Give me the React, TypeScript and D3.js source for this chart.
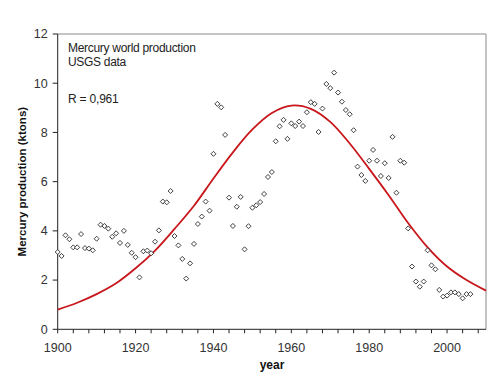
import React from "react";
import * as d3 from "d3";

const years: number[] = d3.range(1900, 2007);
const production: number[] = [
  3.14, 2.98, 3.82, 3.66, 3.33, 3.33, 3.87, 3.30, 3.28, 3.21,
  3.68, 4.25, 4.20, 4.09, 3.76, 3.90, 3.51, 4.00, 3.43, 3.11,
  2.93, 2.11, 3.17, 3.20, 3.09, 3.56, 4.02, 5.19, 5.16, 5.62,
  3.79, 3.41, 2.86, 2.06, 2.68, 3.47, 4.28, 4.58, 5.19, 4.82,
  7.13, 9.16, 9.02, 7.90, 5.35, 4.20, 4.98, 5.38, 3.25, 4.19,
  4.94, 5.04, 5.17, 5.50, 6.19, 6.39, 7.64, 8.25, 8.51, 7.74,
  8.37, 8.26, 8.44, 8.26, 8.82, 9.23, 9.16, 8.02, 8.97, 9.97,
  9.80, 10.43, 9.62, 9.25, 8.91, 8.74, 8.09, 6.61, 6.27, 6.03,
  6.85, 7.29, 6.85, 6.23, 6.75, 6.15, 7.82, 5.55, 6.85, 6.77,
  4.10, 2.55, 1.94, 1.73, 1.94, 3.21, 2.60, 2.44, 1.60, 1.33,
  1.37, 1.50, 1.50, 1.43, 1.26, 1.43, 1.43,
];

const fitYears: number[] = [
  1900, 1905, 1910, 1915, 1920, 1925, 1930, 1935, 1940, 1945, 1950, 1955,
  1960, 1965, 1970, 1975, 1980, 1985, 1990, 1995, 2000, 2005, 2010,
];
const fitValues: number[] = [
  0.80, 1.08, 1.43, 1.87, 2.48, 3.20, 4.08, 5.02, 6.13, 7.19, 8.12, 8.79,
  9.09, 8.96, 8.43, 7.55, 6.52, 5.45, 4.32, 3.33, 2.55, 2.0, 1.57,
];

const xMajorTicks: number[] = [1900, 1920, 1940, 1960, 1980, 2000];
const xMinorTicks: number[] = d3.range(1900, 2010, 4);
const yTicks: number[] = [0, 2, 4, 6, 8, 10, 12];

const titleLines: string[] = ["Mercury world production", "USGS data"];
const rText = "R = 0,961";

export default function App() {
  const W = 500;
  const H = 381;
  const left = 57.7;
  const right = 486;
  const top = 34;
  const bottom = 329.3;
  const x = d3.scaleLinear().domain([1900, 2010]).range([left, right]);
  const y = d3.scaleLinear().domain([0, 12]).range([bottom, top]);

  const line = d3
    .line<number>()
    .x((_, i) => x(fitYears[i]))
    .y((d) => y(d))
    .curve(d3.curveCatmullRom.alpha(0.5));

  const font = "Arial, 'Liberation Sans', sans-serif";
  const r = 2.5;

  return (
    <svg
      width={W}
      height={H}
      style={{ position: "absolute", left: 0, top: 0, background: "#fff" }}
      fontFamily={font}
    >
      <rect x={0} y={0} width={W} height={H} fill="#fff" />
      {/* frame */}
      <line x1={left} x2={right} y1={top} y2={top} stroke="#8a8a8a" strokeWidth={1} />
      <line x1={right} x2={right} y1={top} y2={bottom} stroke="#b0b0b0" strokeWidth={1.5} />
      {/* axes */}
      <line x1={left} x2={left} y1={top} y2={bottom} stroke="#222" strokeWidth={1} />
      <line x1={left} x2={right} y1={bottom} y2={bottom} stroke="#222" strokeWidth={1} />
      {yTicks.map((t) => (
        <g key={"y" + t}>
          <line x1={left - 5} x2={left} y1={y(t)} y2={y(t)} stroke="#222" />
          <text
            x={left - 10}
            y={y(t) + 4.3}
            textAnchor="end"
            fontSize={12.5}
            fill="#333"
          >
            {t}
          </text>
        </g>
      ))}
      {xMinorTicks.map((t) => (
        <line
          key={"xm" + t}
          x1={x(t)}
          x2={x(t)}
          y1={bottom}
          y2={bottom + 4}
          stroke="#222"
        />
      ))}
      {xMajorTicks.map((t) => (
        <text
          key={"xl" + t}
          x={x(t)}
          y={352}
          textAnchor="middle"
          fontSize={12.5}
          fill="#333"
        >
          {t}
        </text>
      ))}
      {/* fitted curve */}
      <path d={line(fitValues) || ""} fill="none" stroke="#c8161b" strokeWidth={1.8} />
      {/* data points */}
      {production.map((v, i) => {
        const cx = x(years[i]);
        const cy = y(v);
        return (
          <path
            key={"p" + i}
            d={`M${cx},${cy - r}L${cx + r},${cy}L${cx},${cy + r}L${cx - r},${cy}Z`}
            fill="#fff"
            stroke="#111"
            strokeWidth={0.8}
          />
        );
      })}
      {/* annotations */}
      {titleLines.map((s, i) => (
        <text key={"t" + i} x={68} y={52 + i * 14} fontSize={12} fill="#222" letterSpacing={-0.3}>
          {s}
        </text>
      ))}
      <text x={68} y={103} fontSize={12} fill="#222" letterSpacing={-0.2}>
        {rText}
      </text>
      {/* axis titles */}
      <text
        x={272}
        y={369}
        textAnchor="middle"
        fontSize={12}
        fontWeight="bold"
        fill="#111"
      >
        year
      </text>
      <text
        transform={`translate(26,${(top + bottom) / 2}) rotate(-90)`}
        textAnchor="middle"
        fontSize={11.5}
        fontWeight="bold"
        fill="#111"
      >
        Mercury production (ktons)
      </text>
    </svg>
  );
}
